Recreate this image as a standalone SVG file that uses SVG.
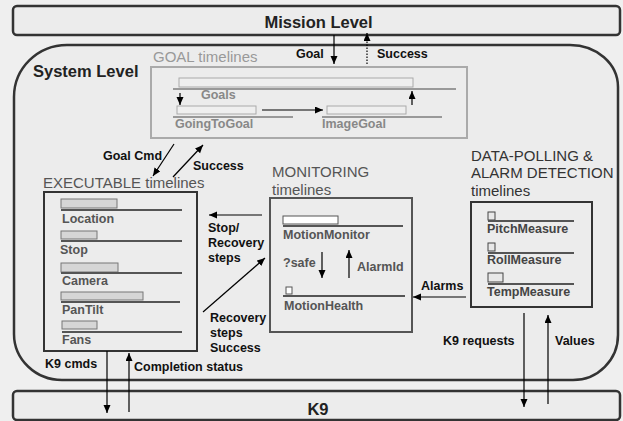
<svg xmlns="http://www.w3.org/2000/svg" width="623" height="421" viewBox="0 0 623 421">
<defs>
<marker id="ah" markerUnits="userSpaceOnUse" markerWidth="9" markerHeight="8" refX="8" refY="3.5" orient="auto">
<path d="M0,0 L8,3.5 L0,7 z" fill="#000"/>
</marker>
</defs>
<style>
.lvl{fill:#ececec;stroke:#333;stroke-width:2.5}
.box{fill:none;stroke:#333;stroke-width:2}
.gbox{fill:none;stroke:#aaa;stroke-width:2}
.bar{fill:#d6d6d6;stroke:#777;stroke-width:1}
.wbar{fill:#fff;stroke:#555;stroke-width:1}
.gbar{fill:#efefef;stroke:#aaa;stroke-width:1}
.sq{fill:#e8e8e8;stroke:#444;stroke-width:1}
.ln{stroke:#555;stroke-width:2}
.gln{stroke:#999;stroke-width:2}
.arr{stroke:#000;stroke-width:1.2;fill:none;marker-end:url(#ah)}
text{font-family:"Liberation Sans",Arial,sans-serif}
.big{font-size:16.5px;font-weight:bold;fill:#222}
.lab{font-size:12.5px;font-weight:bold;fill:#111}
.ttl{font-size:15px;fill:#555}
.tl{font-size:12.5px;font-weight:bold;fill:#555}
.gtl{font-size:12.5px;font-weight:bold;fill:#888}
</style>
<rect width="623" height="421" fill="#efefef"/>

<g id="mission">
<rect class="lvl" x="13" y="6" width="607" height="29" rx="4"/>
<text class="big" x="318.5" y="28" text-anchor="middle">Mission Level</text>
</g>

<g id="system">
<path class="lvl" d="M67,45 H570 A48 42 0 0 1 618,87 V335 A45 45 0 0 1 573,380 H62 A48 46 0 0 1 14,334 V97 A53 52 0 0 1 67,45 Z"/>
<text class="big" x="33" y="77">System Level</text>
</g>

<g id="k9">
<rect class="lvl" x="13" y="391" width="607" height="29" rx="4"/>
<text class="big" x="318" y="415" text-anchor="middle">K9</text>
</g>

<g id="goal-timelines">
<text class="ttl" x="153" y="62" style="fill:#999">GOAL timelines</text>
<rect class="gbox" x="151" y="67" width="316" height="71"/>
<rect class="gbar" x="179" y="78" width="234" height="9"/>
<line class="gln" x1="173" y1="89" x2="456" y2="89"/>
<text class="gtl" x="201" y="99">Goals</text>
<rect class="gbar" x="177" y="106" width="79" height="8"/>
<line class="gln" x1="173" y1="117" x2="293" y2="117"/>
<text class="gtl" x="175" y="128">GoingToGoal</text>
<rect class="gbar" x="327" y="106" width="79" height="8"/>
<line class="gln" x1="322" y1="117" x2="442" y2="117"/>
<text class="gtl" x="322" y="128">ImageGoal</text>
</g>

<g id="executable-timelines">
<text class="ttl" x="43" y="188">EXECUTABLE timelines</text>
<rect class="box" x="44" y="192" width="153" height="159"/>
<rect class="bar" x="61" y="199" width="56" height="9"/>
<line class="ln" x1="61" y1="210" x2="182" y2="210"/>
<text class="tl" x="62" y="223">Location</text>
<rect class="bar" x="61" y="231" width="36" height="8"/>
<line class="ln" x1="61" y1="241" x2="182" y2="241"/>
<text class="tl" x="60" y="254">Stop</text>
<rect class="bar" x="61" y="263" width="57" height="9"/>
<line class="ln" x1="61" y1="273" x2="182" y2="273"/>
<text class="tl" x="62" y="285">Camera</text>
<rect class="bar" x="61" y="292" width="82" height="8"/>
<line class="ln" x1="61" y1="302" x2="180" y2="302"/>
<text class="tl" x="62" y="314">PanTilt</text>
<rect class="bar" x="62" y="321" width="35" height="8"/>
<line class="ln" x1="62" y1="332" x2="182" y2="332"/>
<text class="tl" x="62" y="344">Fans</text>
</g>

<g id="monitoring-timelines">
<text class="ttl" x="272" y="177">MONITORING</text>
<text class="ttl" x="272" y="195">timelines</text>
<rect class="box" x="270" y="198" width="142" height="134" style="stroke:#555"/>
<rect class="wbar" x="283" y="216" width="55" height="8"/>
<line class="ln" x1="283" y1="226" x2="403" y2="226"/>
<text class="tl" x="283" y="239">MotionMonitor</text>
<text class="tl" x="283" y="267">?safe</text>
<text class="tl" x="357" y="271">AlarmId</text>
<rect class="wbar" x="286" y="287" width="6" height="7"/>
<line class="ln" x1="283" y1="296" x2="405" y2="296"/>
<text class="tl" x="284" y="310">MotionHealth</text>
</g>

<g id="data-polling-timelines">
<text class="ttl" x="471" y="161" style="fill:#333">DATA-POLLING &amp;</text>
<text class="ttl" x="471" y="178" style="fill:#333">ALARM DETECTION</text>
<text class="ttl" x="471" y="196" style="fill:#333">timelines</text>
<rect class="box" x="471" y="202" width="121" height="105"/>
<rect class="sq" x="488" y="212" width="7" height="8"/>
<line class="ln" x1="488" y1="221" x2="574" y2="221"/>
<text class="tl" x="487" y="233" style="fill:#444">PitchMeasure</text>
<rect class="sq" x="488" y="243" width="7" height="8"/>
<line class="ln" x1="488" y1="253" x2="574" y2="253"/>
<text class="tl" x="487" y="264" style="fill:#444">RollMeasure</text>
<rect class="sq" x="488" y="273" width="15" height="9"/>
<line class="ln" x1="488" y1="284" x2="574" y2="284"/>
<text class="tl" x="487" y="296" style="fill:#444">TempMeasure</text>
</g>

<g id="connectors">
<line class="arr" x1="334" y1="35" x2="334" y2="64"/>
<text class="lab" x="296" y="58">Goal</text>
<line class="arr" x1="367" y1="64" x2="367" y2="33" style="stroke-dasharray:1.5 1.5"/>
<text class="lab" x="377" y="58">Success</text>
<line class="arr" x1="180" y1="93" x2="180" y2="105"/>
<line class="arr" x1="412" y1="105" x2="412" y2="91"/>
<line class="arr" x1="262" y1="110" x2="323" y2="110"/>
<line class="arr" x1="174" y1="144" x2="153" y2="176"/>
<text class="lab" x="103" y="160">Goal Cmd</text>
<line class="arr" x1="173" y1="177" x2="203" y2="145"/>
<text class="lab" x="193" y="170">Success</text>
<line class="arr" x1="262" y1="215" x2="209" y2="215"/>
<text class="lab" x="208" y="232">Stop/</text>
<text class="lab" x="208" y="247">Recovery</text>
<text class="lab" x="208" y="262">steps</text>
<line class="arr" x1="203" y1="312" x2="265" y2="258"/>
<text class="lab" x="210" y="322">Recovery</text>
<text class="lab" x="210" y="337">steps</text>
<text class="lab" x="210" y="352">Success</text>
<line class="arr" x1="322" y1="252" x2="322" y2="278"/>
<line class="arr" x1="349" y1="278" x2="349" y2="250"/>
<line class="arr" x1="466" y1="297" x2="413" y2="297"/>
<text class="lab" x="421" y="290">Alarms</text>
<line class="arr" x1="107" y1="351" x2="107" y2="413"/>
<text class="lab" x="45" y="368">K9 cmds</text>
<line class="arr" x1="129" y1="412" x2="129" y2="353"/>
<text class="lab" x="134" y="371">Completion status</text>
<line class="arr" x1="524" y1="313" x2="524" y2="407"/>
<text class="lab" x="443" y="345">K9 requests</text>
<line class="arr" x1="548" y1="404" x2="548" y2="315"/>
<text class="lab" x="555" y="345">Values</text>
</g>
</svg>
